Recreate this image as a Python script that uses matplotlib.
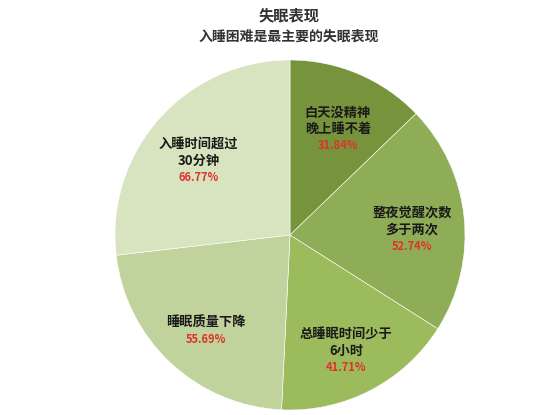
import numpy as np
import matplotlib.pyplot as plt

plt.rcParams['font.family'] = ['Noto Sans CJK SC', 'DejaVu Sans']

# slices, clockwise from the top
names = ['白天没精神\n晚上睡不着', '整夜觉醒次数\n多于两次', '总睡眠时间少于\n6小时',
         '睡眠质量下降', '入睡时间超过\n30分钟']
values = [31.84, 52.74, 41.71, 55.69, 66.77]
colors = ['#77933C', '#8FAD57', '#9CBB5C', '#C0D39C', '#D8E4C0']

fig = plt.figure(figsize=(5.54, 4.15), dpi=100)
ax = fig.add_axes([115/554, 5/415, 350/554, 350/415])

wedges, _ = ax.pie(values, colors=colors, startangle=90, counterclock=False,
                   wedgeprops=dict(edgecolor='white', linewidth=0.4))
ax.set_xlim(-1, 1)
ax.set_ylim(-1, 1)
ax.set_aspect('equal')
ax.axis('off')

r = 0.70
sp = 12
for w, name, v in zip(wedges, names, values):
    mid = np.deg2rad((w.theta1 + w.theta2) / 2)
    x, y = r*np.cos(mid), r*np.sin(mid)
    lines = name.split('\n')
    n = len(lines)
    top = n * sp / 2 - 5
    for i, ln in enumerate(lines):
        ax.annotate(ln, (x, y), xytext=(0, top - i*sp), textcoords='offset points',
                    ha='center', va='center', fontsize=9.5, fontweight='bold',
                    color='#1a1a1a')
    ax.annotate('%.2f%%' % v, (x, y), xytext=(0, top - n*sp), textcoords='offset points',
                ha='center', va='center', fontsize=8, fontweight='bold', color='#E0312A')

fig.text(289/554, 1 - 15/415, '失眠表现', ha='center', va='center',
         fontsize=11, fontweight='bold', color='#333333')
fig.text(289/554, 1 - 37/415, '入睡困难是最主要的失眠表现', ha='center', va='center',
         fontsize=10, fontweight='bold', color='#333333')

fig.savefig('out.png', dpi=100)
